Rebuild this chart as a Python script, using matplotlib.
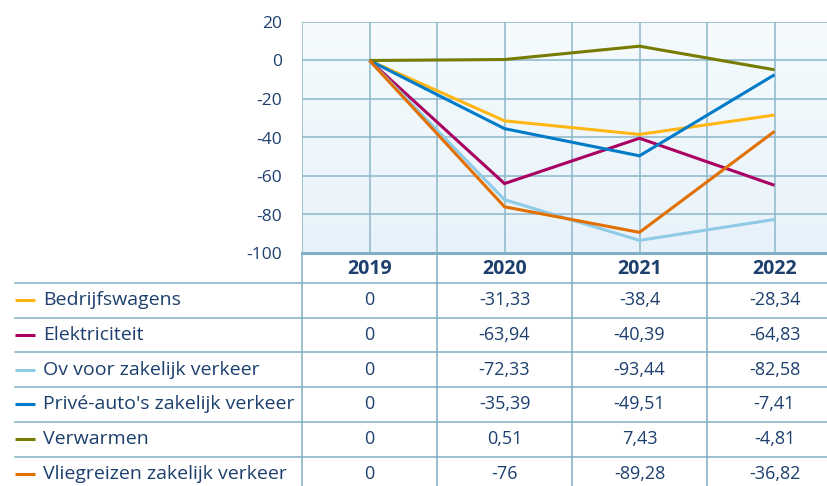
import numpy as np
import matplotlib
matplotlib.use("Agg")
import matplotlib.pyplot as plt
from matplotlib.colors import LinearSegmentedColormap

plt.rcParams['font.family'] = ['Open Sans', 'DejaVu Sans']

years = ["2019", "2020", "2021", "2022"]
series_names = [
    "Bedrijfswagens",
    "Elektriciteit",
    "Ov voor zakelijk verkeer",
    "Privé-auto's zakelijk verkeer",
    "Verwarmen",
    "Vliegreizen zakelijk verkeer",
]
bedrijfswagens = [0, -31.33, -38.4, -28.34]
elektriciteit = [0, -63.94, -40.39, -64.83]
ov_zakelijk = [0, -72.33, -93.44, -82.58]
prive_auto = [0, -35.39, -49.51, -7.41]
verwarmen = [0, 0.51, 7.43, -4.81]
vliegreizen = [0, -76, -89.28, -36.82]
series_values = [bedrijfswagens, elektriciteit, ov_zakelijk, prive_auto, verwarmen, vliegreizen]
colors = ["#ffb612", "#a90061", "#8fcae7", "#007bc7", "#777c00", "#e17000"]
yticks = [20, 0, -20, -40, -60, -80, -100]

TEXT = "#1c3f6e"
GRID = "#8cb7c9"

W, H = 827, 486
fig = plt.figure(figsize=(W / 100, H / 100), dpi=100)

# layout in pixels
left_px, col_w = 302, 135
top_px, bot_px = 22, 253
ax = fig.add_axes([left_px / W, 1 - bot_px / H, 4 * col_w / W, (bot_px - top_px) / H])
ax.set_xlim(-0.5, 3.5)
ax.set_ylim(-100, 20)

# gradient background
grad = np.linspace(0, 1, 256).reshape(-1, 1)
cmap = LinearSegmentedColormap.from_list("bg", ["#f5fbfd", "#e8f2fa"])
ax.imshow(grad, extent=[-0.5, 3.5, -100, 20], aspect="auto", cmap=cmap, origin="upper", zorder=0)

for xv in np.arange(-0.5, 3.51, 0.5):
    ax.axvline(xv, color=GRID, lw=1.1, zorder=1)
for y in yticks:
    ax.axhline(y, color=GRID, lw=1.1, zorder=1)

x = np.arange(len(years))
for vals, c in zip(series_values, colors):
    ax.plot(x, vals, color=c, lw=2.2, solid_joinstyle="miter", solid_capstyle="butt", zorder=3)

ax.set_yticks(yticks)
ax.set_yticklabels([str(t) for t in yticks])
ax.set_xticks([])
ax.tick_params(axis="y", length=0, pad=14.5, labelsize=12.5, labelcolor=TEXT)
for s in ax.spines.values():
    s.set_visible(False)

# table overlay in pixel coordinates
tax = fig.add_axes([0, 0, 1, 1], zorder=5)
tax.set_xlim(0, W)
tax.set_ylim(H, 0)
tax.axis("off")
tax.patch.set_visible(False)

LC = "#7fb0c4"
tax.plot([left_px, W], [bot_px, bot_px], color=LC, lw=2.2)
header_bottom = 283
row_h = 34.7
tax.plot([15, W], [header_bottom, header_bottom], color=LC, lw=1.1)
for i in range(len(years)):
    xl = left_px + i * col_w
    tax.plot([xl, xl], [bot_px, H], color=LC, lw=1.1)
    tax.text(xl + col_w / 2, (bot_px + header_bottom) / 2 + 1, years[i], ha="center", va="center",
             fontsize=14, fontweight="bold", color=TEXT)

def fmt(v):
    return f"{v:g}".replace(".", ",")

for r, (name, vals, c) in enumerate(zip(series_names, series_values, colors)):
    yc = header_bottom + row_h * (r + 0.5)
    if r > 0:
        yl = header_bottom + row_h * r
        tax.plot([15, W], [yl, yl], color=LC, lw=1.1)
    tax.plot([15, 35], [yc, yc], color=c, lw=2.2, solid_capstyle="butt")
    tax.text(43, yc, name, ha="left", va="center", fontsize=14, color=TEXT)
    for i, v in enumerate(vals):
        tax.text(left_px + col_w * (i + 0.5), yc, fmt(v), ha="center", va="center",
                 fontsize=13, color=TEXT)

fig.savefig("out.png", dpi=100)
